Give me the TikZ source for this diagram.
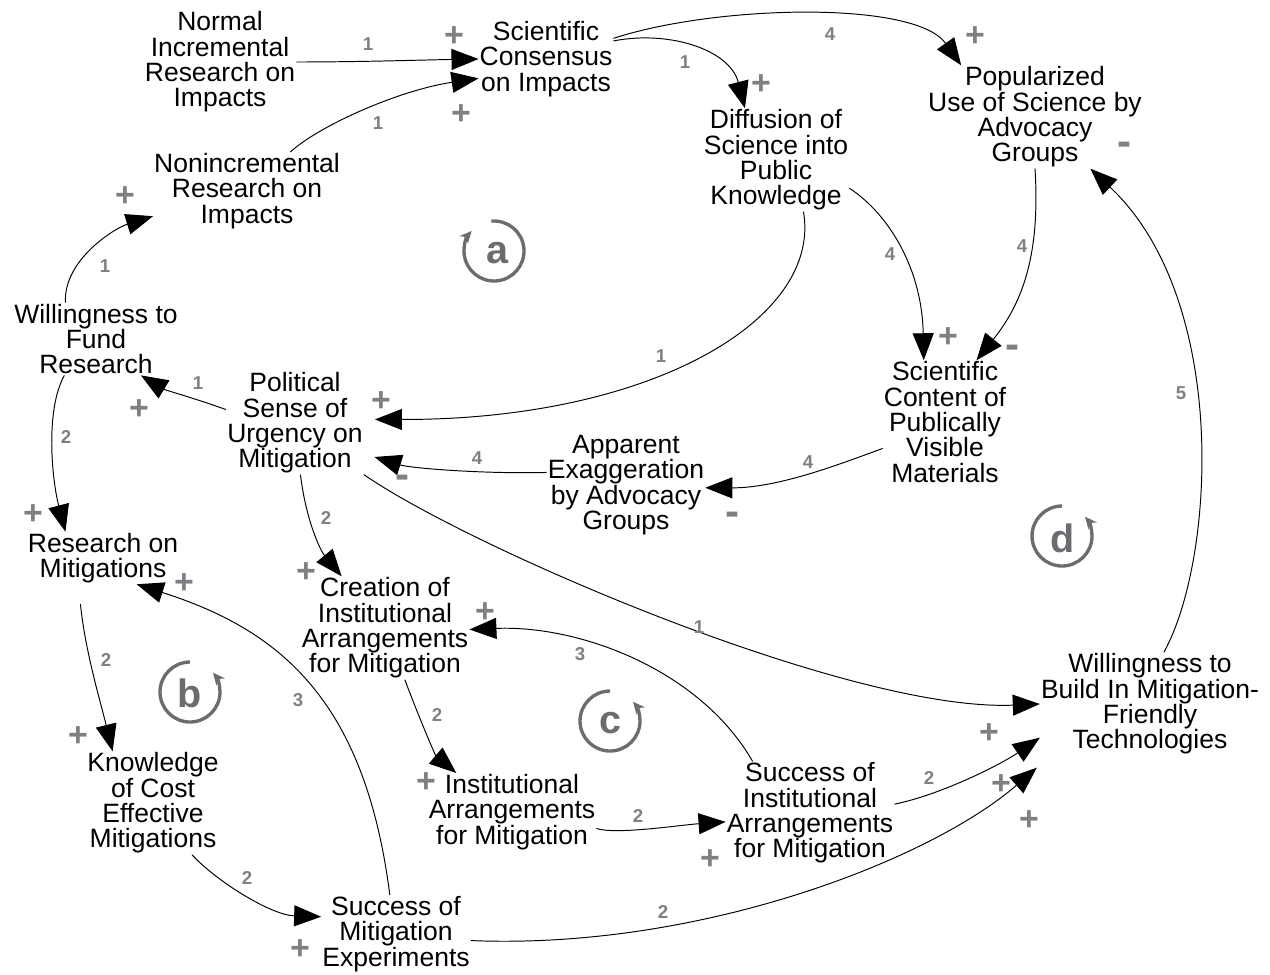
\documentclass[tikz,border=0pt]{standalone}
\usepackage{fontspec}
\setmainfont{Liberation Sans}
\usetikzlibrary{arrows.meta}
\definecolor{signgray}{RGB}{128,128,132}
\definecolor{loopgray}{RGB}{108,108,112}
\tikzset{
  cldvar/.style={align=center, inner sep=0.5pt, font=\fontsize{15.08pt}{14.46pt}\selectfont},
  cldlink/.style={line width=0.55pt, -{Triangle[length=0.54cm,width=0.42cm]}},
  cldnum/.style={text=signgray, inner sep=0, font=\fontsize{10.6pt}{12pt}\selectfont\bfseries},
  cldplus/.style={text=signgray, inner sep=0, font=\fontsize{19.3pt}{20pt}\selectfont\bfseries},
  cldminus/.style={text=signgray, inner sep=0, font=\fontsize{23.9pt}{24pt}\selectfont\bfseries},
  loopring/.style={draw=loopgray, line width=1.9pt, -{Stealth[length=0.24cm,width=0.22cm]}},
  looptag/.style={text=loopgray, inner sep=0, font=\fontsize{22.5pt}{23pt}\selectfont\bfseries},
}
\begin{document}
\begin{tikzpicture}[x=0.02cm, y=-0.02cm]
\fill[white] (0,0) rectangle (1270,974);
\useasboundingbox (0,0) rectangle (1270,974);

% variables
\node[cldvar] (nir) at (220,62) {Normal\\Incremental\\Research on\\Impacts};
\node[cldvar] (sci) at (546,59) {Scientific\\Consensus\\on Impacts};
\node[cldvar] (dif) at (776,160) {Diffusion of\\Science into\\Public\\Knowledge};
\node[cldvar] (pop) at (1035,117) {Popularized\\Use of Science by\\Advocacy\\Groups};
\node[cldvar] (non) at (247,191) {Nonincremental\\Research on\\Impacts};
\node[cldvar] (wfr) at (96,339) {Willingness to\\Fund\\Research};
\node[cldvar] (pol) at (295,423) {Political\\Sense of\\Urgency on\\Mitigation};
\node[cldvar] (con) at (945,422) {Scientific\\Content of\\Publically\\Visible\\Materials};
\node[cldvar] (app) at (626,485) {Apparent\\Exaggeration\\by Advocacy\\Groups};
\node[cldvar] (rom) at (103,558) {Research on\\Mitigations};
\node[cldvar] (cre) at (385,628) {Creation of\\Institutional\\Arrangements\\for Mitigation};
\node[cldvar] (kno) at (153,803) {Knowledge\\of Cost\\Effective\\Mitigations};
\node[cldvar] (ins) at (512,812) {Institutional\\Arrangements\\for Mitigation};
\node[cldvar] (sia) at (810,813) {Success of\\Institutional\\Arrangements\\for Mitigation};
\node[cldvar] (wbt) at (1150,704) {Willingness to\\Build In Mitigation-\\Friendly\\Technologies};
\node[cldvar] (sme) at (396,934) {Success of\\Mitigation\\Experiments};

% causal links
\draw[cldlink] (nir.east) .. controls (360,62) and (420,60) .. (sci.west);
\draw[cldlink] (non.42) .. controls (320,125) and (400,90) .. (sci.196);
\draw[cldlink] (wfr.130) .. controls (63,260) and (115,228) .. (non.195);
\draw[cldlink] (sci.15) .. controls (670,30) and (730,50) .. (dif.121);
\draw[cldlink] (sci.17) .. controls (715,5) and (915,0) .. (pop.145);
\draw[cldlink, shorten >=0.22cm] (dif.-62) .. controls (822,320) and (650,420) .. (pol.3);
\draw[cldlink] (dif.-21) .. controls (890,215) and (922,270) .. (con.109);
\draw[cldlink] (pop.south) .. controls (1040,250) and (1025,300) .. (con.63);
\draw[cldlink] (con.203) .. controls (845,462) and (780,488) .. (app.-2);
\draw[cldlink, shorten >=0.22cm] (app.171) .. controls (480,474) and (410,468) .. (pol.-24);
\draw[cldlink] (pol.169) .. controls (200,400) and (165,390) .. (wfr.-39);
\draw[cldlink] (wfr.-131) .. controls (45,410) and (52,480) .. (rom.145);
\draw[cldlink] (pol.-84) .. controls (306,520) and (320,550) .. (cre.130);
\draw[cldlink] (pol.south east) .. controls (470,548) and (850,712) .. (wbt.west);
\draw[cldlink, shorten <=0.4cm] (rom.-133) .. controls (85,650) and (100,700) .. (kno.128);
\draw[cldlink] (sme.99) .. controls (365,700) and (280,630) .. (rom.-38);
\draw[cldlink] (cre.-69) .. controls (418,715) and (435,755) .. (ins.145);
\draw[cldlink] (ins.-11) .. controls (615,835) and (680,825) .. (sia.186);
\draw[cldlink] (sia.138) .. controls (700,670) and (580,625) .. (cre.-1);
\draw[cldlink] (sia.6) .. controls (940,795) and (1000,765) .. (wbt.197);
\draw[cldlink] (kno.-53) .. controls (215,880) and (270,915) .. (sme.167);
\draw[cldlink] (sme.-5) .. controls (700,950) and (930,860) .. ([shift={(-3,12)}]wbt.south west);
\draw[cldlink] (wbt.75) .. controls (1215,560) and (1230,300) .. (pop.-43);

% delay weights
\node[cldnum] (w1) at (368,44) {1};
\node[cldnum] (w2) at (378,123) {1};
\node[cldnum] (w3) at (105,266) {1};
\node[cldnum] (w4) at (685,62) {1};
\node[cldnum] (w5) at (830,34) {4};
\node[cldnum] (w6) at (661,356) {1};
\node[cldnum] (w7) at (890,254) {4};
\node[cldnum] (w8) at (1022,246) {4};
\node[cldnum] (w9) at (808,462) {4};
\node[cldnum] (w10) at (477,458) {4};
\node[cldnum] (w11) at (198,383) {1};
\node[cldnum] (w12) at (66,437) {2};
\node[cldnum] (w13) at (326,518) {2};
\node[cldnum] (w14) at (699,627) {1};
\node[cldnum] (w15) at (106,660) {2};
\node[cldnum] (w16) at (298,700) {3};
\node[cldnum] (w17) at (437,715) {2};
\node[cldnum] (w18) at (638,816) {2};
\node[cldnum] (w19) at (580,654) {3};
\node[cldnum] (w20) at (929,778) {2};
\node[cldnum] (w21) at (247,878) {2};
\node[cldnum] (w22) at (663,912) {2};
\node[cldnum] (w23) at (1181,393) {5};

% link polarities
\node[cldplus] (p1) at (454,37) {+};
\node[cldplus] (p2) at (461,115) {+};
\node[cldplus] (p3) at (125,197) {+};
\node[cldplus] (p4) at (761,85) {+};
\node[cldplus] (p5) at (975,37) {+};
\node[cldminus] (m23) at (1124,149) {-};
\node[cldplus] (p6) at (381,402) {+};
\node[cldplus] (p11) at (139,410) {+};
\node[cldminus] (m10) at (402,482) {-};
\node[cldplus] (p12) at (33,515) {+};
\node[cldplus] (p13) at (306,573) {+};
\node[cldplus] (p16) at (184,584) {+};
\node[cldplus] (p19) at (485,613) {+};
\node[cldplus] (p7) at (948,338) {+};
\node[cldminus] (m8) at (1012,352) {-};
\node[cldminus] (m9) at (732,519) {-};
\node[cldplus] (p15) at (78,737) {+};
\node[cldplus] (p17) at (426,783) {+};
\node[cldplus] (p21) at (300,950) {+};
\node[cldplus] (p14) at (989,734) {+};
\node[cldplus] (p20) at (1001,785) {+};
\node[cldplus] (p22) at (1029,821) {+};
\node[cldplus] (p18) at (710,860) {+};

% loop markers
\draw[loopring] (494,251) ++(-95:30) arc[start angle=-95, end angle=222, radius=30];
\node[looptag] (la) at (497,253) {a};
\draw[loopring] (190,692) ++(-90:30) arc[start angle=-90, end angle=-400, radius=30];
\node[looptag] (lb) at (190,693) {b};
\draw[loopring] (610,721) ++(-90:30) arc[start angle=-90, end angle=-400, radius=30];
\node[looptag] (lc) at (610,723) {c};
\draw[loopring] (1062,536) ++(-90:30) arc[start angle=-90, end angle=-400, radius=30];
\node[looptag] (ld) at (1063,538) {d};
\end{tikzpicture}
\end{document}
